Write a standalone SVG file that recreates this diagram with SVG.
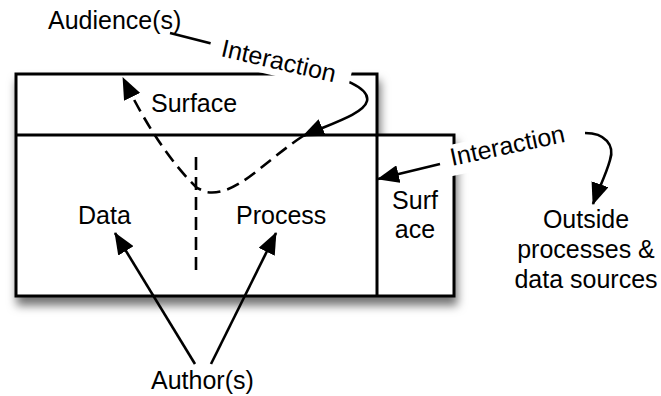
<svg xmlns="http://www.w3.org/2000/svg" width="661" height="396" viewBox="0 0 661 396">
<defs>
<style>
text{font-family:"Liberation Sans",Arial,Helvetica,sans-serif;font-size:25px;fill:#000}
.ln{fill:none;stroke:#000;stroke-width:3}
.c{fill:none;stroke:#000;stroke-width:2.6}
.d{fill:none;stroke:#000;stroke-width:2.6;stroke-dasharray:13 7}
.bg{fill:#fff}
</style>
<filter id="sh" x="-10%" y="-10%" width="130%" height="140%">
<feDropShadow dx="2" dy="8" stdDeviation="5" flood-color="#000" flood-opacity="0.55"/>
</filter>
<marker id="ah" viewBox="0 0 22 18" refX="21" refY="9" markerWidth="22" markerHeight="18" markerUnits="userSpaceOnUse" orient="auto">
<path d="M0,0 L22,9 L0,18 Z" fill="#000"/>
</marker>
</defs>
<g id="box">
<path d="M16 74 H377 V135 H454 V296 H16 Z" fill="#fff" stroke="#000" stroke-width="3" filter="url(#sh)"/>
<path class="ln" d="M16 135 H377 M377 135 V296"/>
</g>
<g id="connectors">
<path class="c" d="M170 33 L300 66 C345 78 370 88 367 101 C364 114 330 124 303 136" marker-end="url(#ah)"/>
<path class="d" d="M303 136 C262 163 236 197 206 192 L197 188 Q158 150 123 78" marker-end="url(#ah)"/>
<path class="d" d="M196 157 V272"/>
<path class="c" d="M195 364 L115 233" marker-end="url(#ah)"/>
<path class="c" d="M211 364 L276 233" marker-end="url(#ah)"/>
<path class="c" d="M440 164 L378 179" marker-end="url(#ah)"/>
<path class="c" d="M585 133 C605 133 615 145 610 160 C606 175 598 190 593 204" marker-end="url(#ah)"/>
</g>
<g id="label-interaction-1" transform="translate(220,56) rotate(13)">
<rect class="bg" x="-12" y="-24" width="144" height="31"/>
<text x="0" y="0">Interaction</text>
</g>
<g id="label-interaction-2" transform="translate(452,166) rotate(-12)">
<rect class="bg" x="-10" y="-21" width="146" height="31"/>
<text x="0" y="0">Interaction</text>
</g>
<g id="audience"><text x="48" y="29">Audience(s)</text></g>
<g id="surface"><text x="151" y="112">Surface</text></g>
<g id="data"><text x="78" y="224">Data</text></g>
<g id="process"><text x="236" y="224">Process</text></g>
<g id="surface-side"><text x="415" y="209" text-anchor="middle">Surf</text><text x="415" y="238" text-anchor="middle">ace</text></g>
<g id="outside"><text x="586" y="228" text-anchor="middle">Outside</text><text x="586" y="258" text-anchor="middle">processes &amp;</text><text x="586" y="288" text-anchor="middle">data sources</text></g>
<g id="author"><text x="151" y="389">Author(s)</text></g>
</svg>
